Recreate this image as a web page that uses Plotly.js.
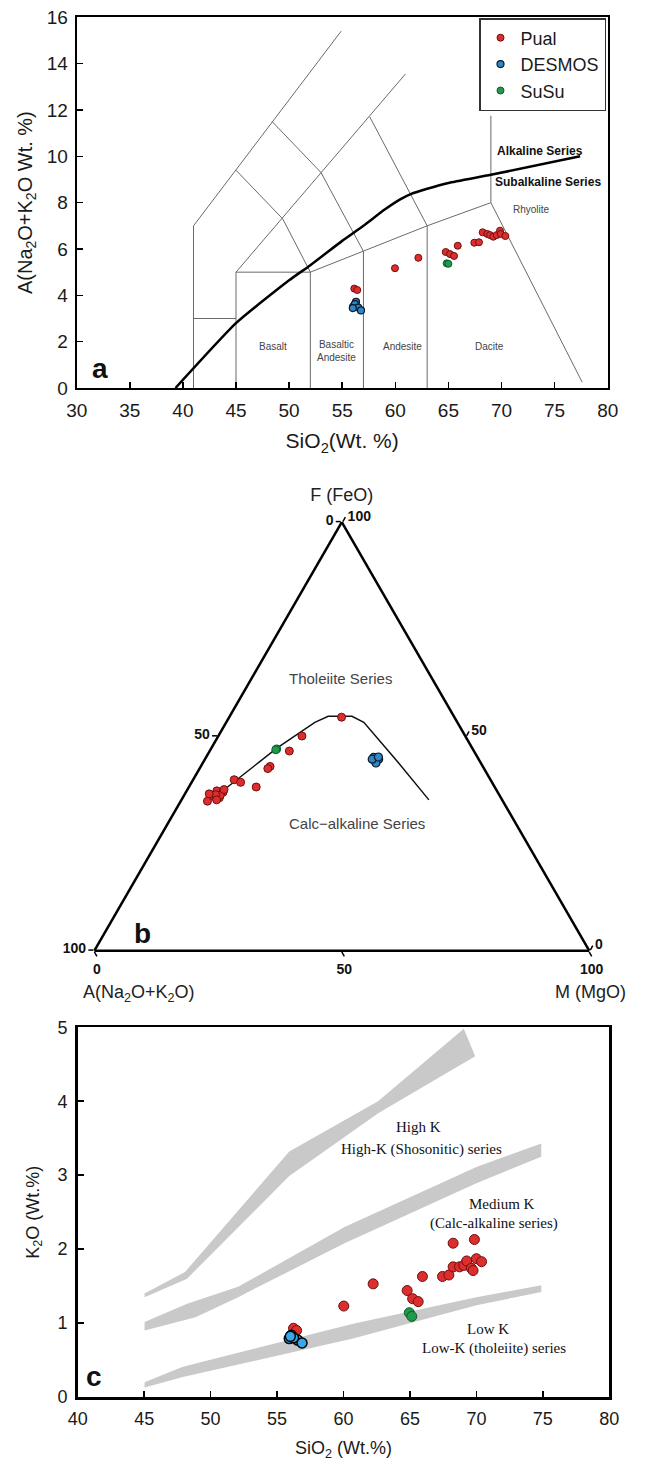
<!DOCTYPE html>
<html>
<head>
<meta charset="utf-8">
<script src="https://cdn.plot.ly/plotly-3.0.1.min.js"></script>
<style>
  html, body { margin: 0; padding: 0; background: #fff; }
  #chart { width: 667px; height: 1464px; }
</style>
</head>
<body>
<div id="chart"></div>
<script>
// ---------------- Panel a : TAS diagram ----------------
const seriesNames = ['Pual', 'DESMOS', 'SuSu'];

const pualA_SiO2 = [56.14, 56.42, 59.97, 62.17, 64.75, 65.15, 65.53, 65.88, 67.44, 67.88, 68.23, 68.66, 68.92, 69.23, 69.55, 69.86, 69.92, 70.36];
const pualA_Alk  = [4.29, 4.23, 5.17, 5.62, 5.87, 5.78, 5.70, 6.14, 6.27, 6.29, 6.72, 6.65, 6.60, 6.53, 6.60, 6.79, 6.65, 6.56];
const desmosA_SiO2 = [56.04, 56.30, 56.20, 56.51, 56.77, 56.00];
const desmosA_Alk  = [3.51, 3.72, 3.62, 3.47, 3.35, 3.45];
const susuA_SiO2 = [64.84, 65.00];
const susuA_Alk  = [5.38, 5.36];

// TAS field boundaries (SiO2, Na2O+K2O)
const tasFieldLines = [
  [[41, 0], [41, 7], [54.9, 15.4]],
  [[41, 3], [45, 3]],
  [[45, 0], [45, 5], [60.95, 13.55]],
  [[45, 5], [52, 5]],
  [[45, 9.4], [49.4, 7.3], [52, 5], [52, 0]],
  [[48.4, 11.5], [53, 9.3], [57, 5.9], [57, 0]],
  [[52, 5], [57, 5.9], [63, 7], [69, 8]],
  [[57.6, 11.7], [63, 7], [63, 0]],
  [[69, 11.75], [69, 8], [77.6, 0.25]]
];
// Alkaline / Subalkaline divide
const alkDivideSiO2 = [39.3, 45, 50, 52, 55, 57, 59, 60.5, 61.5, 63, 65, 69, 77.4];
const alkDivideAlk  = [0, 2.8, 4.65, 5.3, 6.35, 7.0, 7.7, 8.15, 8.38, 8.6, 8.85, 9.2, 10];

// ---------------- Panel b : AFM diagram (percent) ----------------
const pualB_A = [22.8, 33.0, 37.3, 43.0, 43.7, 51.8, 50.8, 48.2, 56.6, 55.5, 58.0, 56.9, 59.7, 56.4, 57.3, 55.0, 57.7, 58.5];
const pualB_F = [54.5, 50.1, 46.6, 43.0, 42.5, 39.9, 39.3, 38.2, 37.3, 37.0, 36.1, 35.7, 34.9, 36.3, 36.4, 37.6, 35.2, 36.6];
const pualB_M = [22.7, 16.9, 16.1, 14.0, 13.8,  8.3,  9.9, 13.6,  6.1,  7.5,  5.9,  7.4,  5.4,  7.3,  6.3,  7.4,  7.1,  4.9];
const desmosB_A = [21.0, 20.2, 21.2, 21.5, 20.0];
const desmosB_F = [45.1, 44.7, 43.8, 44.7, 45.2];
const desmosB_M = [33.9, 35.1, 35.0, 33.8, 34.8];
const susuB_A = [39.6, 39.9];
const susuB_F = [47.1, 46.9];
const susuB_M = [13.3, 13.2];
// Tholeiite / calc-alkaline divide
const afmDivideA = [57.35, 39.6, 28.8, 25.4, 20.6, 18.9, 16.8, 14.8];
const afmDivideF = [36.1, 47.2, 53.3, 54.7, 54.7, 53.3, 44.7, 35.2];
const afmDivideM = [6.55, 13.2, 17.9, 19.9, 24.7, 27.8, 38.5, 50.0];
const afmTickVals = [0, 50, 100];
const afmTickText = ['100', '50', '0'];

// ---------------- Panel c : K2O vs SiO2 ----------------
const pualC_SiO2 = [68.25, 69.85, 67.45, 67.93, 68.25, 68.73, 69.05, 69.27, 69.62, 69.75, 70.00, 70.39, 65.94, 62.23, 64.79, 65.20, 65.62, 60.02, 56.24, 56.47];
const pualC_K2O  = [2.08, 2.13, 1.63, 1.65, 1.76, 1.76, 1.78, 1.84, 1.74, 1.71, 1.87, 1.83, 1.63, 1.53, 1.44, 1.33, 1.29, 1.23, 0.93, 0.90];
const desmosC_SiO2 = [55.92, 56.08, 56.55, 56.24, 56.88, 56.00];
const desmosC_K2O  = [0.79, 0.835, 0.77, 0.80, 0.73, 0.82];
const susuC_SiO2 = [64.95, 65.14];
const susuC_K2O  = [1.14, 1.09];

// grey boundary bands (closed outlines)
const bandHighK_SiO2 = [45.03, 48.07, 55.92, 62.6, 69.05, 69.91, 62.64, 55.92, 48.23, 45.03];
const bandHighK_K2O  = [1.40, 1.69, 3.32, 4.0, 4.98, 4.61, 3.84, 2.99, 1.60, 1.35];
const bandMedK_SiO2 = [45.03, 48.23, 52.07, 60.08, 70.0, 74.88, 74.88, 70.0, 60.08, 52.07, 48.87, 45.03];
const bandMedK_K2O  = [1.015, 1.26, 1.49, 2.30, 3.11, 3.43, 3.25, 2.89, 2.08, 1.35, 1.08, 0.90];
const bandLowK_SiO2 = [45.03, 47.91, 60.72, 70.0, 74.88, 74.88, 70.0, 60.72, 47.91, 45.03];
const bandLowK_K2O  = [0.20, 0.41, 0.99, 1.35, 1.51, 1.42, 1.24, 0.79, 0.27, 0.13];

// ---------------- styles ----------------
const FONT = 'Liberation Sans, Arial, Helvetica, sans-serif';
const SERIF = 'Liberation Serif, Times New Roman, serif';
const W = 667, H = 1464;
const px = v => v / W;
const py = v => 1 - v / H;

const redM   = {color: '#dd2e2e', line: {color: '#6e1010', width: 1}};
const blueM  = {color: '#2f86c8', line: {color: '#0b1a2a', width: 1.2}};
const greenM = {color: '#1f9a4c', line: {color: '#0c5a28', width: 1}};
const blueMc = {color: '#35a9ea', line: {color: '#050505', width: 1.5}};

function joinSegments(segs) {
  const xs = [], ys = [];
  segs.forEach((s, i) => {
    if (i) { xs.push(null); ys.push(null); }
    s.forEach(p => { xs.push(p[0]); ys.push(p[1]); });
  });
  return {xs, ys};
}
const tas = joinSegments(tasFieldLines);

const traces = [
  // panel a
  {type: 'scatter', mode: 'lines', x: tas.xs, y: tas.ys, line: {color: '#6a6a6a', width: 1}, hoverinfo: 'skip', showlegend: false, xaxis: 'x', yaxis: 'y'},
  {type: 'scatter', mode: 'lines', x: alkDivideSiO2, y: alkDivideAlk, line: {color: '#000', width: 2.5, shape: 'spline', smoothing: 0.5}, showlegend: false, xaxis: 'x', yaxis: 'y'},
  {type: 'scatter', mode: 'markers', name: seriesNames[0], x: pualA_SiO2, y: pualA_Alk, marker: Object.assign({size: 7}, redM), xaxis: 'x', yaxis: 'y'},
  {type: 'scatter', mode: 'markers', name: seriesNames[1], x: desmosA_SiO2, y: desmosA_Alk, marker: Object.assign({size: 7}, blueM), xaxis: 'x', yaxis: 'y'},
  {type: 'scatter', mode: 'markers', name: seriesNames[2], x: susuA_SiO2, y: susuA_Alk, marker: Object.assign({size: 7}, greenM), xaxis: 'x', yaxis: 'y'},
  // panel b
  {type: 'scatterternary', subplot: 'ternary', mode: 'lines', a: afmDivideF, b: afmDivideA, c: afmDivideM, line: {color: '#111', width: 1.5}, showlegend: false},
  {type: 'scatterternary', subplot: 'ternary', mode: 'markers', name: seriesNames[0], a: pualB_F, b: pualB_A, c: pualB_M, marker: Object.assign({size: 8}, redM), showlegend: false},
  {type: 'scatterternary', subplot: 'ternary', mode: 'markers', name: seriesNames[2], a: susuB_F, b: susuB_A, c: susuB_M, marker: Object.assign({size: 8}, greenM), showlegend: false},
  {type: 'scatterternary', subplot: 'ternary', mode: 'markers', name: seriesNames[1], a: desmosB_F, b: desmosB_A, c: desmosB_M, marker: Object.assign({size: 8}, blueM), showlegend: false},
  // panel c
  {type: 'scatter', mode: 'lines', x: bandHighK_SiO2, y: bandHighK_K2O, fill: 'toself', fillcolor: '#c9c9c9', line: {width: 0, color: '#c9c9c9'}, showlegend: false, xaxis: 'x2', yaxis: 'y2'},
  {type: 'scatter', mode: 'lines', x: bandMedK_SiO2, y: bandMedK_K2O, fill: 'toself', fillcolor: '#c9c9c9', line: {width: 0, color: '#c9c9c9'}, showlegend: false, xaxis: 'x2', yaxis: 'y2'},
  {type: 'scatter', mode: 'lines', x: bandLowK_SiO2, y: bandLowK_K2O, fill: 'toself', fillcolor: '#c9c9c9', line: {width: 0, color: '#c9c9c9'}, showlegend: false, xaxis: 'x2', yaxis: 'y2'},
  {type: 'scatter', mode: 'markers', name: seriesNames[0], x: pualC_SiO2, y: pualC_K2O, marker: Object.assign({size: 10}, redM), showlegend: false, xaxis: 'x2', yaxis: 'y2'},
  {type: 'scatter', mode: 'markers', name: seriesNames[2], x: susuC_SiO2, y: susuC_K2O, marker: Object.assign({size: 10}, greenM), showlegend: false, xaxis: 'x2', yaxis: 'y2'},
  {type: 'scatter', mode: 'markers', name: seriesNames[1], x: desmosC_SiO2, y: desmosC_K2O, marker: Object.assign({size: 10}, blueMc), showlegend: false, xaxis: 'x2', yaxis: 'y2'}
];

const axBase = {
  showline: true, mirror: true, linecolor: '#000', showgrid: false, zeroline: false,
  ticks: 'inside', ticklen: 6, tickwidth: 1.5, tickcolor: '#000',
  color: '#1a1a1a'
};
const tAx = {
  showline: true, linecolor: '#000', linewidth: 2.5, showgrid: false,
  tickvals: afmTickVals, ticktext: afmTickText, ticks: 'outside', ticklen: 5, tickwidth: 1.5, tickcolor: '#000',
  tickfont: {size: 14, weight: 'bold', color: '#111'}, color: '#111'
};

const regionFont = {size: 10, color: '#444'};
const layout = {
  width: W, height: H,
  margin: {l: 0, r: 0, t: 0, b: 0},
  paper_bgcolor: '#fff', plot_bgcolor: '#fff',
  font: {family: FONT, color: '#1a1a1a'},
  showlegend: true,
  legend: {
    x: px(606), y: py(18), xanchor: 'right', yanchor: 'top',
    bordercolor: '#333', borderwidth: 1.5, bgcolor: '#fff',
    font: {size: 18, color: '#1a1a1a'}, itemsizing: 'trace', tracegroupgap: 0
  },
  xaxis: Object.assign({}, axBase, {
    domain: [px(76.7), px(607.7)], anchor: 'y', range: [30, 80], tick0: 30, dtick: 5, linewidth: 2,
    tickfont: {size: 19}, ticklabelstandoff: 4,
    title: {text: 'SiO<sub>2</sub>(Wt. %)', font: {size: 21}, standoff: 14}
  }),
  yaxis: Object.assign({}, axBase, {
    domain: [py(388), py(17.3)], anchor: 'x', range: [0, 16], tick0: 0, dtick: 2, linewidth: 2,
    tickfont: {size: 19}, ticklabelstandoff: 3,
    title: {text: 'A(Na<sub>2</sub>O+K<sub>2</sub>O Wt. %)', font: {size: 20}, standoff: 9}
  }),
  xaxis2: Object.assign({}, axBase, {
    domain: [px(77.7), px(609.3)], anchor: 'y2', range: [40, 80], tick0: 40, dtick: 5, linewidth: 2.5,
    tickfont: {size: 18}, ticklabelstandoff: 4,
    title: {text: 'SiO<sub>2</sub> (Wt.%)', font: {size: 18}, standoff: 14}
  }),
  yaxis2: Object.assign({}, axBase, {
    domain: [py(1397), py(1027.3)], anchor: 'x2', range: [0, 5], tick0: 0, dtick: 1, linewidth: 2.5,
    tickfont: {size: 18}, ticklabelstandoff: 4,
    title: {text: 'K<sub>2</sub>O (Wt.%)', font: {size: 18}, standoff: 14}
  }),
  ternary: {
    domain: {x: [px(94.4), px(589.2)], y: [py(950.7), py(950.7 - 428.5)]},
    sum: 100, bgcolor: 'rgba(0,0,0,0)',
    aaxis: Object.assign({}, tAx, {title: {text: 'F (FeO)', font: {size: 18, color: '#222'}}}),
    baxis: Object.assign({}, tAx, {title: {text: ''}}),
    caxis: Object.assign({}, tAx, {title: {text: ''}})
  },
  annotations: [
    // panel a
    {xref: 'x', yref: 'y', x: 32.2, y: 0.85, text: '<b>a</b>', showarrow: false, font: {size: 28, color: '#111'}},
    {xref: 'x', yref: 'y', x: 48.5, y: 1.79, text: 'Basalt', showarrow: false, font: regionFont},
    {xref: 'x', yref: 'y', x: 54.5, y: 1.58, text: 'Basaltic<br>Andesite', showarrow: false, font: regionFont},
    {xref: 'x', yref: 'y', x: 60.67, y: 1.79, text: 'Andesite', showarrow: false, font: regionFont},
    {xref: 'x', yref: 'y', x: 68.9, y: 1.79, text: 'Dacite', showarrow: false, font: regionFont},
    {xref: 'x', yref: 'y', x: 72.8, y: 7.71, text: 'Rhyolite', showarrow: false, font: regionFont},
    {xref: 'x', yref: 'y', x: 73.6, y: 10.24, text: '<b>Alkaline Series</b>', showarrow: false, font: {size: 12, color: '#111'}},
    {xref: 'x', yref: 'y', x: 74.4, y: 8.88, text: '<b>Subalkaline Series</b>', showarrow: false, font: {size: 12, color: '#111'}},
    // panel b
    {xref: 'paper', yref: 'paper', x: px(340), y: py(678.3), text: 'Tholeiite Series', showarrow: false, font: {size: 15, color: '#444'}},
    {xref: 'paper', yref: 'paper', x: px(356.5), y: py(823.3), text: 'Calc\u2212alkaline Series', showarrow: false, font: {size: 15, color: '#444'}},
    {xref: 'paper', yref: 'paper', x: px(131.9), y: py(933.3), text: '<b>b</b>', showarrow: false, font: {size: 28, color: '#111'}},
    {xref: 'paper', yref: 'paper', x: px(80.8), y: py(980), yanchor: 'top', text: 'A(Na<sub>2</sub>O+K<sub>2</sub>O)', showarrow: false, font: {size: 18, color: '#222'}},
    {xref: 'paper', yref: 'paper', x: px(628), y: py(980), yanchor: 'top', text: 'M (MgO)', showarrow: false, font: {size: 18, color: '#222'}},
    // panel c
    {xref: 'x2', yref: 'y2', x: 41.25, y: 0.28, text: '<b>c</b>', showarrow: false, font: {size: 28, color: '#111'}},
    {xref: 'x2', yref: 'y2', x: 65.62, y: 3.655, text: 'High K', showarrow: false, font: {family: SERIF, size: 15, color: '#111'}},
    {xref: 'x2', yref: 'y2', x: 65.84, y: 3.35, text: 'High-K (Shosonitic) series', showarrow: false, font: {family: SERIF, size: 15, color: '#111'}},
    {xref: 'x2', yref: 'y2', x: 71.93, y: 2.61, text: 'Medium K', showarrow: false, font: {family: SERIF, size: 15, color: '#111'}},
    {xref: 'x2', yref: 'y2', x: 71.29, y: 2.34, text: '(Calc-alkaline series)', showarrow: false, font: {family: SERIF, size: 15, color: '#111'}},
    {xref: 'x2', yref: 'y2', x: 70.87, y: 0.925, text: 'Low K', showarrow: false, font: {family: SERIF, size: 15, color: '#111'}},
    {xref: 'x2', yref: 'y2', x: 71.35, y: 0.654, text: 'Low-K (tholeiite) series', showarrow: false, font: {family: SERIF, size: 15, color: '#111'}}
  ]
};

Plotly.newPlot('chart', traces, layout, {displayModeBar: false, staticPlot: true});
</script>
</body>
</html>
